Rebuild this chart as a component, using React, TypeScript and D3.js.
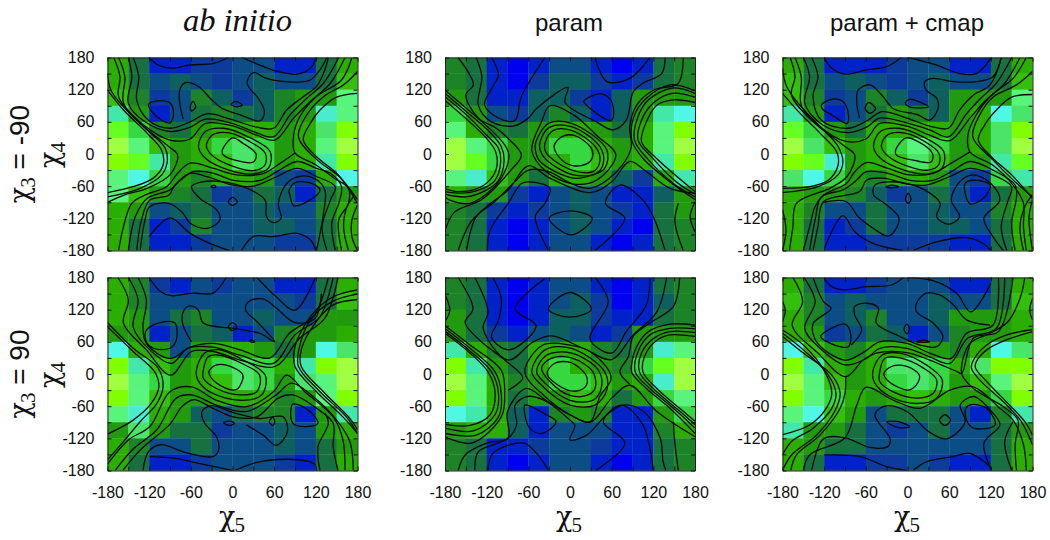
import React, { useRef, useEffect } from 'react';
import * as d3 from 'd3';

const WIDTH = 1050;
const HEIGHT = 540;

// colour levels of the map cells, dark blue up to the lime corners
const levelColors = ['#0000f0', '#0520c8', '#0a3a9c', '#0f4e85', '#10605f', '#19703f', '#1d8325', '#229a10', '#2aae03', '#30c010', '#35d840', '#48e468', '#58f47c', '#42e8a8', '#48eccc', '#50f8e4', '#66ff22', '#80ff00', '#a0ff40'];

const tickValues = d3.range(-180, 181, 30);
const labelValues = [-180, -120, -60, 0, 60, 120, 180];
const cellAngles = d3.range(-180, 180, 30);

const gridAbM90 = [
  [8, 5, 1, 1, 2, 2, 3, 3, 1, 1, 5, 8],
  [8, 5, 3, 4, 3, 2, 3, 4, 3, 3, 5, 9],
  [9, 6, 2, 3, 6, 4, 2, 4, 6, 7, 7, 12],
  [13, 7, 1, 3, 5, 6, 5, 4, 6, 7, 14, 12],
  [16, 10, 6, 5, 7, 8, 8, 8, 7, 8, 11, 17],
  [18, 12, 9, 7, 8, 10, 11, 10, 7, 8, 12, 18],
  [17, 16, 13, 7, 8, 9, 11, 10, 7, 8, 13, 17],
  [12, 15, 10, 7, 6, 8, 8, 7, 3, 2, 8, 15],
  [12, 9, 7, 6, 5, 2, 3, 5, 4, 1, 5, 7],
  [8, 7, 3, 4, 5, 3, 3, 4, 3, 3, 6, 8],
  [8, 5, 1, 2, 6, 3, 3, 4, 4, 3, 5, 8],
  [8, 5, 1, 1, 2, 3, 3, 3, 2, 2, 5, 8],
];
const gridParamM90 = [
  [6, 5, 1, 0, 1, 3, 3, 1, 0, 1, 5, 6],
  [6, 5, 1, 0, 2, 4, 4, 2, 1, 2, 5, 6],
  [7, 5, 1, 1, 4, 4, 2, 1, 4, 7, 7, 7],
  [10, 7, 3, 2, 4, 6, 4, 1, 4, 7, 13, 15],
  [12, 8, 6, 5, 7, 8, 8, 7, 5, 8, 12, 17],
  [18, 12, 10, 7, 7, 10, 10, 8, 7, 8, 12, 18],
  [18, 16, 10, 7, 7, 8, 10, 9, 7, 8, 13, 17],
  [12, 14, 9, 7, 5, 8, 8, 7, 4, 2, 8, 13],
  [8, 7, 7, 2, 1, 3, 4, 3, 1, 1, 4, 7],
  [6, 5, 2, 1, 2, 3, 4, 3, 2, 1, 5, 7],
  [6, 5, 1, 0, 1, 3, 4, 3, 1, 0, 5, 6],
  [6, 5, 1, 0, 1, 3, 3, 1, 0, 1, 5, 6],
];
const gridCmapM90 = [
  [8, 5, 1, 1, 1, 2, 3, 3, 1, 1, 5, 8],
  [9, 5, 3, 4, 3, 2, 3, 4, 3, 3, 5, 9],
  [9, 6, 2, 3, 6, 4, 2, 4, 7, 7, 7, 12],
  [13, 7, 1, 3, 5, 7, 6, 4, 7, 8, 15, 11],
  [16, 10, 7, 5, 8, 8, 8, 8, 7, 8, 11, 17],
  [18, 11, 9, 7, 8, 10, 12, 10, 7, 8, 11, 18],
  [17, 16, 14, 7, 8, 9, 11, 9, 7, 7, 13, 16],
  [11, 15, 10, 7, 6, 8, 8, 7, 3, 2, 10, 13],
  [8, 7, 7, 6, 4, 2, 3, 5, 3, 1, 5, 7],
  [8, 6, 3, 3, 5, 3, 3, 4, 3, 3, 6, 8],
  [8, 5, 1, 2, 5, 3, 3, 4, 4, 3, 5, 8],
  [8, 5, 1, 1, 2, 2, 2, 2, 1, 1, 5, 8],
];
const gridAbP90 = [
  [8, 6, 2, 1, 3, 2, 3, 3, 1, 1, 5, 8],
  [8, 6, 3, 3, 3, 3, 3, 3, 3, 2, 5, 9],
  [8, 7, 3, 5, 6, 3, 3, 4, 3, 3, 7, 7],
  [7, 7, 1, 3, 5, 4, 1, 3, 6, 7, 7, 8],
  [15, 8, 7, 3, 7, 8, 8, 7, 5, 7, 15, 11],
  [17, 13, 9, 7, 8, 10, 11, 10, 8, 13, 17, 18],
  [18, 12, 10, 7, 8, 9, 11, 10, 7, 11, 12, 18],
  [17, 12, 9, 7, 7, 8, 8, 8, 6, 7, 12, 17],
  [12, 14, 8, 7, 4, 3, 5, 6, 6, 1, 7, 13],
  [7, 11, 7, 5, 5, 2, 3, 3, 4, 3, 7, 8],
  [8, 6, 3, 3, 5, 3, 3, 3, 4, 3, 5, 7],
  [8, 5, 1, 1, 2, 3, 3, 3, 2, 1, 5, 8],
];
const gridParamP90 = [
  [6, 5, 1, 0, 1, 3, 3, 1, 0, 1, 5, 6],
  [6, 5, 1, 0, 1, 3, 4, 2, 0, 1, 4, 6],
  [7, 5, 1, 0, 1, 4, 4, 2, 1, 1, 5, 6],
  [7, 5, 2, 1, 3, 4, 3, 1, 2, 7, 7, 7],
  [13, 8, 6, 5, 8, 8, 8, 6, 5, 7, 14, 12],
  [17, 13, 7, 5, 8, 10, 8, 7, 6, 10, 16, 18],
  [18, 12, 8, 6, 7, 10, 10, 9, 7, 8, 14, 18],
  [17, 12, 8, 5, 7, 7, 9, 8, 5, 7, 10, 12],
  [15, 13, 8, 4, 1, 6, 7, 6, 1, 1, 7, 10],
  [7, 8, 8, 4, 1, 3, 3, 3, 1, 1, 6, 8],
  [6, 5, 1, 1, 2, 3, 3, 2, 1, 1, 5, 6],
  [6, 5, 1, 0, 1, 3, 3, 1, 0, 1, 5, 6],
];
const gridCmapP90 = [
  [8, 5, 1, 1, 2, 3, 3, 3, 1, 1, 5, 8],
  [9, 6, 3, 4, 3, 3, 3, 4, 3, 3, 5, 9],
  [8, 6, 3, 4, 6, 3, 3, 4, 7, 7, 7, 8],
  [8, 7, 2, 3, 5, 4, 1, 3, 6, 7, 7, 8],
  [15, 9, 7, 6, 8, 8, 8, 7, 6, 8, 15, 11],
  [17, 13, 8, 7, 8, 11, 11, 10, 8, 11, 17, 17],
  [18, 12, 9, 7, 8, 10, 11, 10, 7, 9, 12, 18],
  [17, 12, 10, 8, 7, 8, 9, 8, 7, 7, 10, 17],
  [12, 15, 9, 7, 3, 5, 5, 5, 3, 1, 6, 13],
  [13, 7, 7, 5, 3, 2, 3, 5, 3, 3, 5, 7],
  [8, 7, 5, 5, 3, 3, 3, 3, 3, 3, 5, 8],
  [8, 5, 1, 1, 2, 2, 3, 2, 1, 1, 5, 8],
];

// contour lines, each one as [chi5 angles, chi4 angles]
type Trace = number[][];

const linesAbM90: Trace[] = [
  [[-120, -107, -87, -61, -27, -6], [180, 166, 160, 166, 169, 180]],
  [[13, 45, 64, 93, 112, 121], [180, 163, 154, 149, 160, 180]],
  [[136, 126, 112, 93, 49, 30, 21, 37, 46, 40, 11, -15, -30, -49, -68, -76, -76, -71], [180, 157, 138, 134, 141, 152, 132, 104, 79, 62, 73, 85, 101, 126, 133, 119, 95, 65]],
  [[-143, -135, -138, -121, -90, -61, -37, -3, 35, 59, 78, 102, 121, 133, 138], [180, 144, 101, 63, 48, 60, 75, 65, 50, 48, 82, 107, 126, 157, 180]],
  [[-150, -145, -150, -126, -90, -61, -39, -3, 30, 59, 83, 107, 131, 153], [180, 144, 95, 60, 42, 50, 65, 58, 42, 32, 73, 104, 132, 180]],
  [[-164, -155, -157, -128, -90, -61, -39, 1, 35, 61, 88, 112, 141, 162], [180, 144, 95, 54, 26, 28, 57, 52, 35, 26, 67, 98, 132, 180]],
  [[-171, -162, -164, -133, -92, -79, -90, -123, -157, -180], [180, 144, 107, 57, 14, -2, -39, -64, -77, -90]],
  [[-180, -175, -157, -123, -97, -94, -102, -133, -180], [150, 119, 88, 45, 11, -14, -39, -64, -80]],
  [[-180, -157, -123, -102, -100, -114, -143, -180], [119, 82, 39, 7, -21, -45, -61, -72]],
  [[180, 150, 126, 112, 102, 121, 150, 180], [113, 106, 82, 57, 26, -5, -36, -85]],
  [[180, 160, 131, 107, 95, 121, 155, 180], [154, 129, 107, 73, 32, -10, -44, -92]],
  [[172, 157, 121, 97, 88, 90, 121, 145, 167, 167, 153, 157], [180, 138, 107, 70, 35, 2, -21, -44, -64, -92, -123, -180]],
  [[90, 69, 45, 6, -27, -61, -79, -95, -123, -145, -157, -164], [2, -17, -36, -39, -27, -17, -36, -61, -75, -92, -136, -180]],
  [[148, 143, 153, 157, 141, 121, 93, 64, 40, 1, -27, -56, -75, -90, -123, -140, -150], [-180, -129, -92, -61, -36, -27, -14, -33, -49, -49, -36, -33, -49, -67, -83, -117, -180]],
  [[136, 129, 141, 148, 121, 93, 64, 30, 1, -37, -61, -83, -92, -119, -131, -138], [-180, -136, -86, -61, -42, -27, -42, -60, -58, -42, -36, -58, -77, -86, -123, -180]],
  [[-133, -126, -119, -92, -73, -61, -37, -18, -23, -47, -59, -44, -13, 21, 47, 49, 59, 70, 66, 78, 95, 117, 133, 131, 121], [-180, -123, -98, -92, -108, -129, -139, -123, -104, -83, -61, -52, -52, -64, -86, -117, -128, -120, -92, -55, -42, -45, -67, -111, -180]],
  [[180, 172, 172, 180], [-95, -123, -154, -180]],
  [[167, 160, 165, 174], [-180, -136, -98, -80]],
  [[-120, -90, -61, -32, -4], [-154, -119, -148, -167, -180]],
  [[13, 30, 59, 93, 112, 120], [-180, -154, -154, -148, -160, -180]],
];
const loopsAbM90: Trace[] = [
  [[-15, 0, 15, 34, 30, 5, -13], [5, 30, 20, 0, -15, -12, -2]],
  [[-37, -27, -3, 25, 47, 47, 30, 1, -27, -37], [20, 37, 39, 23, 2, -20, -31, -23, -5, 11]],
  [[-49, -39, -13, 21, 54, 52, 30, -3, -39], [14, 42, 48, 33, 5, -26, -37, -31, -8]],
  [[-121, -109, -90, -85, -90, -102, -116], [92, 99, 95, 76, 58, 63, 79]],
  [[-61, -57, -53, -59], [88, 98, 88, 80]],
  [[-2, 5, 14, 5], [93, 98, 91, 88]],
  [[-31, -27, -24, -27], [-61, -58, -61, -63]],
  [[-6, 0, 7, 0], [-89, -81, -89, -96]],
  [[81, 89, 112, 126, 110, 88, 82], [-71, -54, -54, -67, -87, -96, -73]],
];

const linesParamM90: Trace[] = [
  [[-135, -127, -132, -113, -82, -61, -48, -3, -7, 38, 62, 81, 91, 105, 132, 137], [180, 144, 91, 60, 52, 66, 85, 124, 96, 60, 45, 63, 116, 132, 150, 180]],
  [[-113, -103, -111, -123, -96, -79, -70, -36], [180, 147, 126, 91, 63, 63, 107, 180]],
  [[36, 53, 86, 115], [180, 135, 141, 180]],
  [[-161, -144, -139, -150, -132, -106, -89, -70, -87, -127, -166, -180], [180, 147, 129, 110, 67, 48, 29, -2, -33, -85, -108, -143]],
  [[-180, -149, -118, -94, -88, -95, -111, -144, -173, -180], [119, 85, 50, 17, -2, -36, -64, -92, -86, -80]],
  [[-180, -149, -118, -99, -95, -103, -120, -149, -180], [113, 79, 44, 14, -14, -49, -67, -80, -75]],
  [[-180, -149, -120, -103, -100, -108, -125, -154, -180], [107, 73, 35, 11, -17, -49, -64, -73, -70]],
  [[-180, -120, -107, -106, -118, -139, -163, -180], [100, 29, 4, -27, -52, -67, -70, -65]],
  [[-161, -144, -120, -89, -60, -29, 29, 60, 86, 110, 144, 180], [-180, -129, -98, -67, -22, -45, -72, -52, -14, -33, -64, -73]],
  [[180, 144, 110, 93, 89, 105, 144, 180], [118, 129, 104, 73, 26, -8, -52, -85]],
  [[180, 147, 113, 98, 93, 113, 149, 180], [113, 123, 101, 70, 26, -11, -55, -80]],
  [[180, 147, 120, 103, 98, 117, 153, 180], [106, 113, 95, 63, 26, -5, -52, -75]],
  [[180, 149, 125, 110, 103, 122, 180], [96, 101, 91, 60, 23, -5, -70]],
  [[163, 156, 120, 96, 86, 88, 67, 29, 0, -31, -60, -82, -111, -135, -149], [180, 132, 119, 91, 51, 11, -33, -64, -54, -33, -30, -55, -92, -117, -180]],
  [[-119, -115, -89, -70, -58, -29, -36, -50, -31], [-180, -142, -92, -55, -52, -64, -92, -117, -180]],
  [[36, 79, 51, 72, 105, 120, 137], [-180, -120, -92, -58, -86, -117, -180]],
  [[180, 173, 180], [-89, -117, -145]],
  [[163, 151, 156], [-180, -126, -92]],
];
const loopsParamM90: Trace[] = [
  [[-23, -12, 5, 29, 33, 26, 5, -12], [14, 32, 35, 14, -2, -17, -22, -11]],
  [[-36, -24, 2, 38, 43, 33, 5, -27, -36], [20, 44, 44, 11, -14, -33, -31, -8, 7]],
  [[-43, -29, 2, 43, 48, 38, 5, -34, -43], [23, 50, 51, 14, -17, -36, -39, -11, 7]],
  [[-49, -31, 2, 53, 50, 33, 5, -43, -50], [23, 57, 57, 8, -27, -39, -45, -14, 8]],
  [[-29, 5, 38, 66, 38, 5, -34, -55, -41], [90, 73, 35, -2, -49, -56, -33, 7, 60]],
  [[20, 45, 60, 60, 29], [98, 112, 98, 63, 85]],
  [[-30, 0, 32, 2], [-120, -106, -120, -151]],
];

const linesCmapM90: Trace[] = [
  [[-120, -109, -90, -59, -30, -9], [180, 160, 149, 157, 163, 180]],
  [[1, 42, 75, 99, 120], [180, 166, 150, 150, 179]],
  [[135, 123, 99, 66, 37, 25, 27, 42, 44, 32, 15, -21, -35, -54, -71, -73, -69], [180, 144, 135, 135, 141, 135, 119, 104, 85, 63, 73, 85, 107, 129, 119, 95, 67]],
  [[-138, -129, -136, -124, -85, -57, -37, -1, 32, 59, 75, 95, 119, 135], [180, 144, 107, 63, 48, 63, 79, 67, 52, 48, 82, 110, 129, 179]],
  [[-150, -141, -148, -122, -85, -59, -40, -1, 32, 59, 85, 104, 128, 150], [180, 144, 95, 54, 40, 50, 67, 58, 45, 32, 75, 102, 132, 180]],
  [[-162, -153, -153, -129, -90, -60, -40, -1, 32, 61, 90, 111, 140, 162], [180, 144, 91, 54, 24, 28, 57, 52, 35, 25, 67, 98, 132, 180]],
  [[-169, -162, -167, -136, -90, -76, -87, -112, -160, -165, -170], [180, 144, 110, 60, 14, -2, -42, -64, -92, -136, -180]],
  [[-180, -174, -153, -121, -100, -93, -100, -129, -180], [160, 126, 88, 45, 14, -14, -39, -61, -72]],
  [[-180, -157, -126, -102, -100, -114, -141, -180], [113, 79, 39, 4, -21, -49, -61, -64]],
  [[180, 150, 128, 111, 102, 123, 150, 180], [111, 106, 82, 54, 26, -8, -39, -83]],
  [[180, 157, 123, 104, 94, 123, 155, 180], [154, 129, 106, 73, 32, -11, -52, -80]],
  [[171, 152, 121, 99, 87, 90, 123, 152, 167, 167, 171], [180, 141, 110, 73, 35, 4, -21, -58, -92, -136, -180]],
  [[90, 63, 37, 3, -28, -59, -76, -88, -121, -133, -141, -150], [4, -17, -36, -39, -27, -16, -33, -55, -77, -98, -136, -180]],
  [[155, 150, 157, 155, 123, 90, 63, 37, 3, -28, -59, -76, -93, -124, -133, -141], [-180, -129, -80, -58, -30, -14, -33, -49, -49, -36, -33, -52, -67, -80, -123, -180]],
  [[143, 135, 145, 150, 123, 90, 61, 27, -1, -35, -59, -69, -121, -129, -136], [-180, -136, -86, -61, -39, -27, -42, -58, -56, -45, -49, -70, -89, -136, -180]],
  [[-120, -88, -71, -49, -28, -15, -13, -33, -49, -47, -28, 3, 25, 47, 42, 59, 75, 63, 75, 95, 120, 133, 110, 123, 138], [-90, -89, -117, -139, -153, -136, -117, -92, -76, -58, -52, -56, -67, -92, -117, -131, -117, -86, -52, -39, -55, -86, -120, -154, -180]],
  [[-119, -93, -76, -49, -6], [-174, -115, -145, -167, -180]],
  [[8, 42, 85, 109, 120], [-180, -164, -156, -167, -180]],
  [[180, 175, 180], [-86, -117, -180]],
  [[-180, -175, -180], [-104, -142, -180]],
  [[167, 162, 169, 180], [-180, -136, -98, -76]],
];
const loopsCmapM90: Trace[] = [
  [[-17, -2, 14, 36, 34, 10, -16], [8, 30, 24, 1, -15, -12, -2]],
  [[-37, -27, -3, 25, 45, 45, 30, 1, -27, -37], [20, 37, 39, 23, 2, -20, -30, -23, -5, 11]],
  [[-49, -39, -13, 21, 52, 50, 30, -3, -39], [14, 42, 48, 33, 5, -26, -37, -31, -8]],
  [[-124, -109, -93, -85, -87, -109, -121], [91, 102, 98, 73, 57, 73, 82]],
  [[-61, -56, -46, -54], [85, 96, 85, 76]],
  [[-3, 3, 30, 3], [95, 102, 88, 88]],
  [[83, 95, 119, 109, 90, 83], [-55, -49, -58, -83, -93, -73]],
  [[-31, -23, -13, -23], [-61, -58, -61, -63]],
  [[-3, 1, 5, 1], [-85, -73, -85, -92]],
];

const linesAbP90: Trace[] = [
  [[-120, -104, -88, -57, -28, -9], [180, 154, 146, 151, 151, 180]],
  [[35, 63, 90, 119], [180, 144, 119, 179]],
  [[128, 119, 90, 63, 44, 23, 19, 35, 61, 39, 1, -42, -49, -61, -70, -72, -59], [150, 104, 96, 123, 140, 135, 119, 98, 60, 76, 85, 95, 119, 127, 119, 95, 60]],
  [[-136, -124, -129, -124, -90, -61, -28, 11, 54, 82, 118, 138], [180, 138, 88, 57, 29, 50, 57, 45, 30, 76, 110, 180]],
  [[-150, -136, -143, -119, -88, -64, -28, 11, 59, 90, 126, 145], [180, 138, 88, 45, 20, 48, 50, 35, 20, 73, 107, 180]],
  [[-165, -150, -157, -124, -89, -59, -28, 11, 61, 97, 133, 152], [180, 138, 95, 45, -2, 42, 42, 26, 14, 67, 104, 180]],
  [[-180, -143, -112, -106, -117, -143, -180], [88, 42, 4, -24, -55, -86, -112]],
  [[-180, -143, -107, -100, -109, -133, -157, -180], [96, 48, 11, -24, -55, -89, -126, -160]],
  [[-180, -150, -119, -90, -59, -23, 20, 59, 78, 104, 145, 159, 162], [-168, -123, -98, -33, -24, -49, -61, -33, -2, -33, -80, -123, -180]],
  [[-169, -143, -109, -81, -59, -23, 20, 63, 85, 116, 150, 169, 174], [-180, -140, -104, -45, -39, -58, -70, -39, -17, -42, -86, -126, -180]],
  [[-158, -133, -89, -73, -56, -28, 1, 35, 66, 87, 121, 145, 145, 152], [-180, -142, -92, -61, -48, -64, -80, -80, -45, -39, -64, -92, -136, -180]],
  [[180, 145, 114, 90, 90, 121, 159, 180], [157, 144, 110, 51, 14, -33, -80, -111]],
  [[180, 145, 114, 96, 95, 126, 164, 180], [149, 136, 104, 48, 14, -33, -80, -111]],
  [[180, 145, 119, 99, 99, 131, 169, 180], [139, 129, 95, 45, 14, -33, -83, -104]],
  [[-129, -121, -104, -66, -28, -20, -23, -40, -44, -30, 1, 39, 73, 79, 63, 44, 20], [-180, -145, -132, -147, -154, -142, -117, -92, -70, -59, -72, -83, -80, -108, -133, -114, -95]],
  [[-119, -85, -47, -1], [-154, -157, -167, -180]],
  [[3, 35, 78, 112, 120], [-180, -165, -159, -164, -170]],
  [[126, 123, 138, 133], [-180, -136, -92, -73]],
];
const loopsAbP90: Trace[] = [
  [[-34, -23, 1, 15, 8, 1, -23], [4, 17, 12, -2, -27, -30, -17]],
  [[-42, -35, -18, 13, 39, 35, 11, -23, -42], [7, 32, 35, 20, -2, -33, -39, -27, -8]],
  [[-52, -40, -18, 11, 47, 42, 11, -33, -50], [7, 39, 45, 29, -2, -39, -49, -33, -11]],
  [[-124, -104, -83, -81, -90, -114, -125], [82, 96, 95, 63, 48, 48, 63]],
  [[-6, 0, 6, 0], [88, 96, 88, 81]],
  [[25, 28, 32, 28], [62, 63, 60, 59]],
  [[-13, -4, 3, -4], [-91, -88, -92, -96]],
  [[53, 58, 61, 58], [-89, -81, -89, -96]],
  [[84, 87, 109, 123, 104, 87], [-67, -56, -67, -92, -98, -92]],
];

const linesParamP90: Trace[] = [
  [[-111, -99, -103, -113, -89, -58, -49, -79, -36], [180, 141, 100, 69, 45, 70, 91, 122, 178]],
  [[36, 55, 29, 60, 81, 110, 115], [180, 135, 65, 39, 79, 129, 178]],
  [[-137, -118, -125, -89, -53, -27, 19, 60, 91, 125, 139], [180, 116, 85, 26, 60, 71, 48, 27, 73, 116, 180]],
  [[158, 149, 115, 91, 84, 72, 86], [180, 126, 95, 70, 32, 4, -19]],
  [[-118, -111, -67, -48, -31], [-180, -148, -129, -148, -180]],
  [[-137, -132, -89, -77, -79, -62, -39, 0, 7, 0, 24, 53, 77, 106, 130, 134, 138], [-180, -145, -120, -95, -58, -42, -48, -86, -96, -123, -114, -76, -58, -70, -120, -163, -180]],
  [[-161, -151, -120, -89, -90, -63, -34, 0, 29, 60, 86, 125, 180], [-180, -151, -129, -119, -70, -27, -50, -76, -90, -45, -21, -70, -117]],
  [[37, 79, 48, 74, 105, 120], [-180, -129, -89, -58, -95, -180]],
  [[-180, -144, -118, -108, -115, -144, -180], [76, 39, 4, -33, -76, -96, -94]],
  [[-180, -144, -113, -103, -108, -139, -180], [80, 43, 4, -36, -76, -106, -101]],
  [[-180, -144, -108, -99, -103, -135, -180], [85, 48, 4, -36, -80, -114, -111]],
  [[-180, -144, -99, -94, -99, -142, -180], [90, 54, 7, -36, -80, -129, -117]],
  [[-161, -142, -140, -151, -130, -91, -68, -89], [180, 135, 119, 96, 63, 23, -7, -30]],
  [[-180, -173, -180], [148, 119, 98]],
  [[180, 144, 113, 96, 89, 89, 110, 144, 180], [91, 93, 79, 51, 20, 3, -27, -64, -111]],
  [[180, 144, 115, 98, 94, 115, 149, 180], [84, 85, 73, 42, 4, -27, -64, -101]],
  [[180, 144, 120, 103, 100, 120, 153, 180], [77, 79, 66, 39, 4, -27, -64, -94]],
  [[180, 144, 125, 108, 105, 125, 158, 180], [70, 73, 63, 35, 4, -27, -64, -88]],
  [[156, 151, 149], [-180, -129, -89]],
];
const loopsParamP90: Trace[] = [
  [[-33, -22, 2, 24, 22, 5, -17], [1, 20, 21, -5, -24, -32, -21]],
  [[-41, -27, 2, 33, 36, 24, 0, -29], [11, 29, 30, 4, -27, -40, -40, -14]],
  [[-48, -34, 2, 41, 45, 33, 0, -36], [4, 35, 39, 7, -27, -49, -49, -17]],
  [[-55, -36, 2, 50, 53, 36, 0, -41], [4, 45, 48, 4, -30, -58, -58, -21]],
  [[-65, -39, 0, 29, 57, 59, 43, 29, 0, -36], [4, 54, 54, 42, 4, -11, -42, -89, -76, -42]],
  [[-31, 0, 31, 0], [121, 152, 121, 106]],
  [[-65, -34, -20, -41, -58, -65], [-58, -76, -89, -111, -101, -76]],
];

const linesCmapP90: Trace[] = [
  [[-136, -121, -110, -136, -131, -90, -64, -40, -1, 32, 63, 85, 123, 131], [180, 135, 122, 94, 60, 26, 40, 60, 57, 39, 29, 76, 91, 180]],
  [[-149, -133, -148, -126, -90, -59, -40, -1, 32, 61, 87, 128, 140], [180, 135, 85, 48, 17, 29, 48, 48, 32, 20, 67, 85, 180]],
  [[-165, -151, -166, -129, -89, -64, -45, -1, 32, 72, 78, 95, 131, 152], [180, 135, 91, 39, -5, 26, 39, 40, 26, 4, 1, 67, 79, 180]],
  [[-180, -150, -119, -109, -117, -141, -180], [82, 54, 4, -36, -64, -95, -113]],
  [[-180, -150, -114, -103, -109, -136, -167, -180], [76, 45, -2, -36, -64, -101, -126, -151]],
  [[-180, -150, -109, -97, -105, -131, -167, -180], [70, 39, -2, -36, -70, -114, -151, -180]],
  [[-89, -90, -97, -126, -160, -168], [-5, -36, -64, -114, -151, -180]],
  [[-150, -141, -90, -73, -60, -20, 18, 61, 95, 133, 152, 167, 171], [-180, -151, -119, -58, -25, -49, -64, -30, -24, -64, -86, -132, -180]],
  [[-138, -121, -90, -54, -28, -25, -47, -33, -1, 30, 56, 83, 76, 95, 121, 133, 110, 121], [-180, -121, -119, -137, -135, -121, -76, -60, -70, -107, -121, -89, -58, -42, -70, -95, -129, -180]],
  [[-120, -68, -30, -1], [-151, -154, -173, -180]],
  [[8, 27, 66, 90, 119], [-180, -164, -154, -148, -173]],
  [[-120, -109, -90, -59, -23, -6], [179, 163, 157, 163, 166, 180]],
  [[1, 37, 71, 91, 120], [180, 174, 150, 116, 169]],
  [[119, 85, 66, 47, 27, 13, 13, 37, 51, 42, 18, -11, -45, -42, -59, -76, -76, -66, -81], [91, 101, 129, 147, 151, 132, 116, 95, 70, 51, 54, 70, 95, 123, 132, 126, 110, 82, 54]],
  [[180, 143, 114, 95, 92, 104, 143, 164, 180], [83, 73, 54, 26, 11, -11, -58, -89, -132]],
  [[180, 143, 114, 99, 98, 114, 147, 169, 180], [79, 64, 45, 23, 11, -14, -58, -89, -114]],
  [[169, 162, 145, 119, 90, 78, 95, 138, 159, 155, 157], [180, 141, 98, 76, 57, 1, -27, -61, -86, -132, -180]],
  [[150, 140, 152], [-180, -126, -89]],
  [[180, 176, 180], [141, 119, 101]],
  [[-180, -176, -180], [135, 119, 98]],
];
const loopsCmapP90: Trace[] = [
  [[-34, -23, -1, 17, 13, 1, -28], [1, 14, 14, -2, -20, -30, -13]],
  [[-40, -33, -11, 23, 42, 37, 13, -21, -40], [4, 29, 30, 11, -11, -36, -45, -33, -14]],
  [[-50, -37, -11, 27, 50, 42, 13, -25, -47], [4, 35, 39, 17, -11, -45, -55, -42, -17]],
  [[-125, -114, -90, -82, -85, -105], [70, 82, 93, 76, 51, 54]],
  [[46, 54, 62, 54], [-86, -76, -86, -96]],
  [[84, 92, 114, 126, 95, 85], [-64, -57, -64, -95, -101, -86]],
  [[-30, -13, 3, -13], [-89, -89, -98, -100]],
  [[-5, -1, 3, -1], [84, 93, 84, 75]],
  [[13, 23, 32, 23], [60, 63, 60, 59]],
];

const panels = [
  { left: 107.5, top: 57.5, grid: gridAbM90, lines: linesAbM90, loops: loopsAbM90 },
  { left: 445, top: 57.5, grid: gridParamM90, lines: linesParamM90, loops: loopsParamM90 },
  { left: 782.5, top: 57.5, grid: gridCmapM90, lines: linesCmapM90, loops: loopsCmapM90 },
  { left: 107.5, top: 277.5, grid: gridAbP90, lines: linesAbP90, loops: loopsAbP90 },
  { left: 445, top: 277.5, grid: gridParamP90, lines: linesParamP90, loops: loopsParamP90 },
  { left: 782.5, top: 277.5, grid: gridCmapP90, lines: linesCmapP90, loops: loopsCmapP90 },
];

const panelW = 250;
const panelH = 193;
const xScale = d3.scaleLinear().domain([-180, 180]).range([0, panelW]);
const yScale = d3.scaleLinear().domain([-180, 180]).range([panelH, 0]);

const toPoints = (t: Trace) => t[0].map((x, i) => [x, t[1][i]] as [number, number]);
const openPath = d3.line<[number, number]>().x((d) => xScale(d[0])).y((d) => yScale(d[1])).curve(d3.curveCatmullRom.alpha(0.5));
const closedPath = d3.line<[number, number]>().x((d) => xScale(d[0])).y((d) => yScale(d[1])).curve(d3.curveCatmullRomClosed.alpha(0.5));

const Panel = ({ p, showX }: { p: typeof panels[number]; showX: boolean }) => {
  const ref = useRef<SVGGElement>(null);

  useEffect(() => {
    const g = d3.select(ref.current);
    g.selectAll('*').remove();
    const fmt = (d: any) => (labelValues.includes(d) ? String(d) : '');
    const style = (sel: any) => {
      sel.selectAll('.domain').attr('stroke', '#222').attr('stroke-width', 1);
      sel.selectAll('.tick line').attr('stroke', '#111').attr('stroke-width', 1);
      sel.selectAll('text').attr('font-family', '"Liberation Sans", Arial, sans-serif').attr('font-size', 16).attr('fill', '#111');
    };
    const bottom = g.append('g').attr('transform', `translate(0,${panelH})`)
      .call(d3.axisBottom(xScale).tickValues(tickValues).tickFormat(showX ? fmt : () => '').tickSizeInner(-4).tickSizeOuter(0).tickPadding(16));
    const left = g.append('g')
      .call(d3.axisLeft(yScale).tickValues(tickValues).tickFormat(fmt).tickSizeInner(-4).tickSizeOuter(0).tickPadding(13));
    const top = g.append('g')
      .call(d3.axisTop(xScale).tickValues(tickValues).tickFormat(() => '').tickSizeInner(-4).tickSizeOuter(0));
    const right = g.append('g').attr('transform', `translate(${panelW},0)`)
      .call(d3.axisRight(yScale).tickValues(tickValues).tickFormat(() => '').tickSizeInner(-4).tickSizeOuter(0));
    [bottom, left, top, right].forEach(style);
  }, [p, showX]);

  const cellW = xScale(-150) - xScale(-180);
  const cellH = yScale(150) - yScale(180);

  return (
    <g transform={`translate(${p.left},${p.top})`}>
      <g filter="url(#soft)">
        {p.grid.map((row, r) =>
          row.map((level, c) => (
            <rect
              key={`${r}-${c}`}
              x={xScale(cellAngles[c])}
              y={r * cellH}
              width={cellW + 0.3}
              height={cellH + 0.3}
              fill={levelColors[level]}
            />
          ))
        )}
      </g>
      <g fill="none" stroke="#0a0a0a" strokeWidth={1.3} clipPath="url(#panelClip)">
        {p.lines.map((t, i) => <path key={i} d={openPath(toPoints(t)) as string} />)}
        {p.loops.map((t, i) => <path key={i} d={closedPath(toPoints(t)) as string} />)}
      </g>
      <g ref={ref} />
    </g>
  );
};

const sans = '"Liberation Sans", Arial, sans-serif';
const serif = '"Liberation Serif", "Times New Roman", serif';
const greek = '"DejaVu Serif", serif';

const Chi = ({ x, y, sub, rotate }: { x: number; y: number; sub: string; rotate?: boolean }) => (
  <text
    transform={`translate(${x},${y})${rotate ? ' rotate(-90)' : ''}`}
    textAnchor="middle"
    fontFamily={greek}
    fontSize={27}
    fill="#111"
  >
    χ<tspan fontFamily={serif} fontSize={21} dy={6} dx={-1}>{sub}</tspan>
  </text>
);

export default function App() {
  return (
    <svg width={WIDTH} height={HEIGHT} style={{ position: 'absolute', left: 0, top: 0 }}>
      <defs>
        <clipPath id="panelClip"><rect x={0} y={0} width={panelW} height={panelH} /></clipPath>
        <filter id="soft" x="0" y="0" width="1" height="1"><feGaussianBlur stdDeviation="0.5" /></filter>
      </defs>
      <rect width={WIDTH} height={HEIGHT} fill="#fff" />

      <text x={237.5} y={31} textAnchor="middle" fontFamily={serif} fontStyle="italic" fontSize={32.5} fill="#111">ab initio</text>
      <text x={569} y={31} textAnchor="middle" fontFamily={sans} fontSize={24} fill="#111">param</text>
      <text x={907} y={31} textAnchor="middle" fontFamily={sans} fontSize={24} fill="#111">param + cmap</text>

      {panels.map((p, i) => <Panel key={i} p={p} showX={i >= 3} />)}

      <Chi x={232} y={526} sub="5" />
      <Chi x={569} y={526} sub="5" />
      <Chi x={907} y={526} sub="5" />

      <Chi x={59} y={155} sub="4" rotate />
      <Chi x={59} y={375} sub="4" rotate />

      <g transform="translate(29,154) rotate(-90)">
        <text textAnchor="middle" fontFamily={greek} fontSize={27} fill="#111">
          χ<tspan fontFamily={serif} fontSize={21} dy={6} dx={-1}>3</tspan><tspan fontFamily={sans} fontSize={28} dy={-6}> = -90</tspan>
        </text>
      </g>
      <g transform="translate(29,374) rotate(-90)">
        <text textAnchor="middle" fontFamily={greek} fontSize={27} fill="#111">
          χ<tspan fontFamily={serif} fontSize={21} dy={6} dx={-1}>3</tspan><tspan fontFamily={sans} fontSize={28} dy={-6}> = 90</tspan>
        </text>
      </g>
    </svg>
  );
}
